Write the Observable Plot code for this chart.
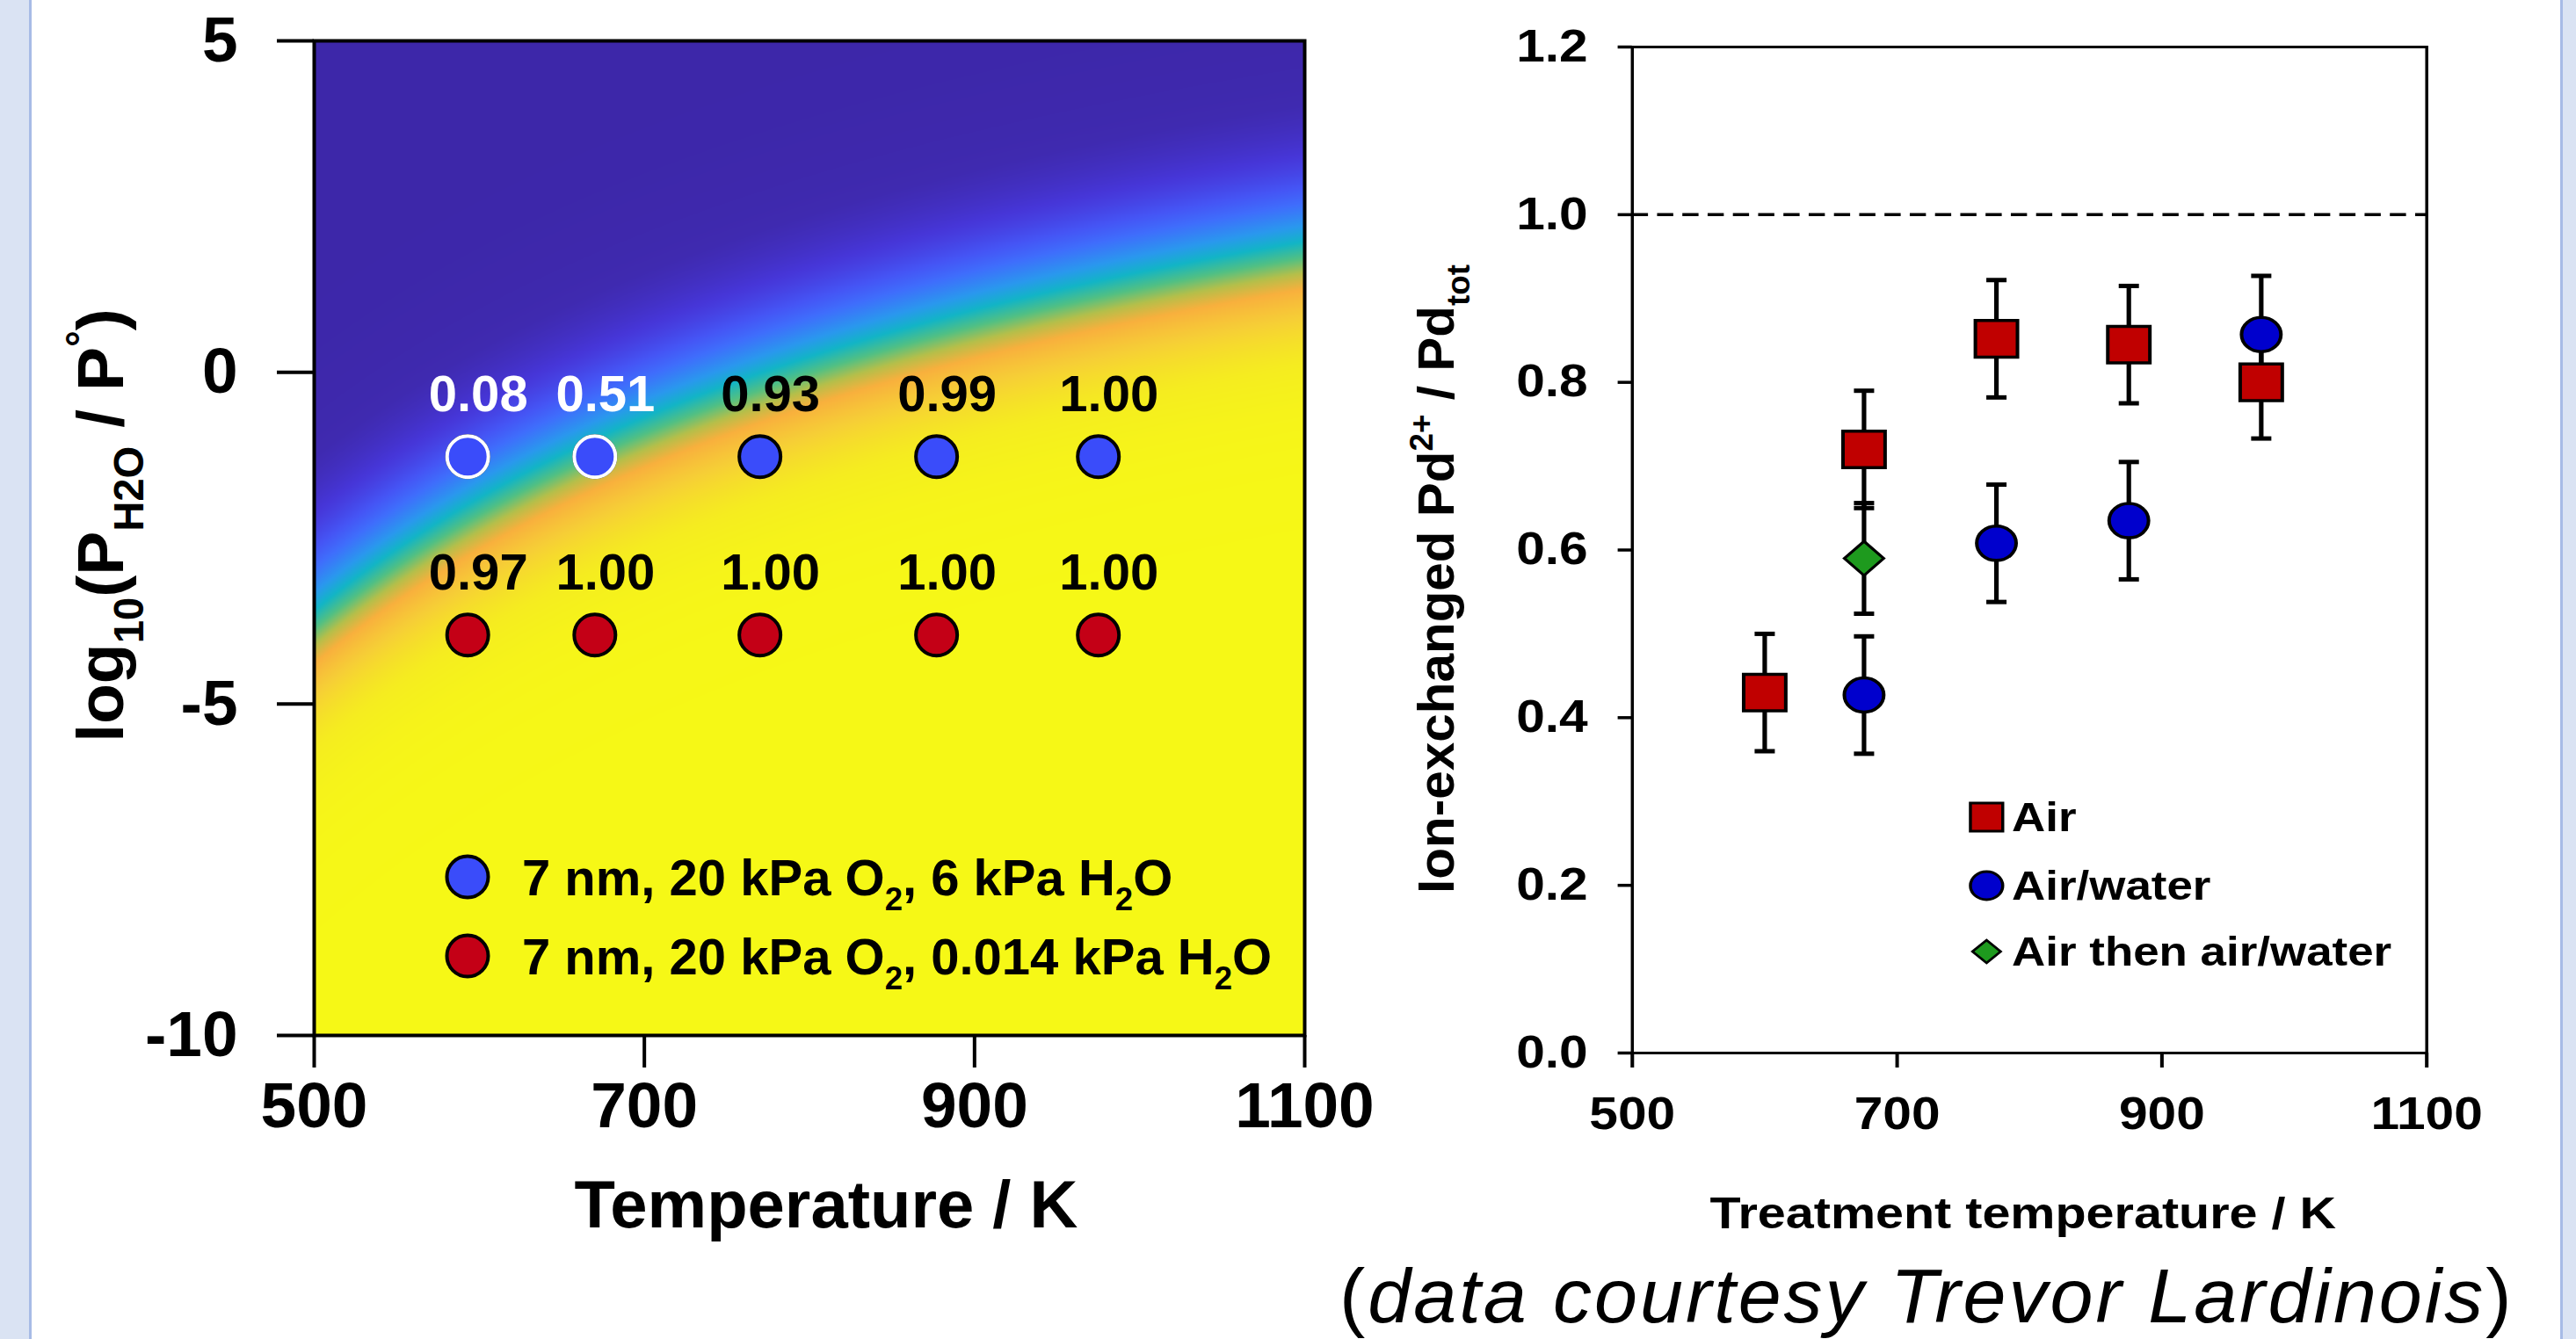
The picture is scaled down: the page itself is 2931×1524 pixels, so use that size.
<!DOCTYPE html>
<html><head><meta charset="utf-8">
<script src="https://cdn.jsdelivr.net/npm/d3@7"></script>
<script src="https://cdn.jsdelivr.net/npm/@observablehq/plot@0.6"></script>
<style>
html,body{margin:0;padding:0;background:#fff;}
#page{position:relative;width:2931px;height:1524px;overflow:hidden;background:#fff;font-family:"Liberation Sans",Arial,sans-serif;}
.stripL{position:absolute;left:0;top:0;width:33px;height:1524px;background:#dae3f3;border-right:3px solid #a7bbe6;}
.stripR{position:absolute;left:2913px;top:0;width:18px;height:1524px;background:#dae3f3;border-left:3px solid #a7bbe6;box-sizing:border-box;}
#left{position:absolute;left:0;top:0;width:1600px;height:1524px;}
#right{position:absolute;left:0;top:0;width:1150px;height:1524px;}
#page svg{max-width:none !important;}
#left svg g[aria-label$="tick"]{stroke-width:4px;}
#right svg g[aria-label$="tick"]{stroke-width:3.5px;}
#rightWrap{position:absolute;left:1560px;top:0;width:1150px;height:1524px;transform:scale(1.15,1);transform-origin:0 0;}
</style></head>
<body>
<div id="page">
  <div class="stripL"></div>
  <div class="stripR"></div>
  <div id="left"></div>
  <div id="rightWrap"><div id="right"></div></div>
</div>
<script>
// ---------- Left panel data ----------
const leftTemps = [593, 670, 770, 877, 975];           // K
const logP6kPa = -1.27;                                // log10(P_H2O/P°) of 6 kPa series
const logP0014kPa = -3.96;                             // log10(P_H2O/P°) of 0.014 kPa series
const frac6kPa = [0.08, 0.51, 0.93, 0.99, 1.00];
const frac0014kPa = [0.97, 1.00, 1.00, 1.00, 1.00];
const leftXTicks = [500, 700, 900, 1100];
const leftYTicks = [-10, -5, 0, 5];
const leftLegend = ["7 nm, 20 kPa O|2|, 6 kPa H|2|O", "7 nm, 20 kPa O|2|, 0.014 kPa H|2|O"];

// model surface (ion-exchanged fraction) read from the background band:
// band centre log10 P = A - B/T, band spread s = s0 + s1/T
const bandA = 6.61, bandB = 5100, bandS0 = 0.68, bandS1 = 85;
const fracStops = [0, 0.06, 0.15, 0.25, 0.32, 0.42, 0.5, 0.58, 0.65, 0.72, 0.82, 0.92, 1];
const fracColors = ["#3d27a9", "#3f2ab0", "#4636d8", "#4555f5", "#3f6efc", "#2a98ee", "#12b5c6",
                    "#52c083", "#b5bf4a", "#f8b03d", "#f6cf36", "#f5ec20", "#f6f816"];

// ---------- Right panel data ----------
const rightXTicks = [500, 700, 900, 1100];
const rightYTicks = [0, 0.2, 0.4, 0.6, 0.8, 1.0, 1.2];
const airT = [600, 675, 775, 875, 975];
const airFrac = [0.43, 0.72, 0.852, 0.845, 0.80];
const airErr = [0.07, 0.07, 0.07, 0.07, 0.067];
const waterT = [675, 775, 875, 975];
const waterFrac = [0.427, 0.608, 0.635, 0.857];
const waterErr = [0.07, 0.07, 0.07, 0.07];
const thenT = [675];
const thenFrac = [0.59];
const thenErr = [0.066];
const rightLegend = ["Air", "Air/water", "Air then air/water"];
const fullLine = 1.0;

const FONT = "Liberation Sans, Arial, sans-serif";

// ---------- Left chart ----------
function frac(T, lp) {
  const c = bandA - bandB / T;
  const s = bandS0 + bandS1 / T;
  return 1 / (1 + Math.exp((lp - c) / s));
}
const leftPts = [
  ...leftTemps.map((T, i) => ({T, lp: logP6kPa, f: frac6kPa[i], series: "h"})),
  ...leftTemps.map((T, i) => ({T, lp: logP0014kPa, f: frac0014kPa[i], series: "l"}))
];
const dark = d => d.f < 0.6;
const fmt = d => d.f.toFixed(2);

const left = Plot.plot({
  width: 1600, height: 1320,
  marginLeft: 357, marginRight: 116, marginTop: 46, marginBottom: 142,
  x: {domain: [500, 1100], ticks: leftXTicks, tickFormat: d => String(d), tickSize: 37, tickPadding: 16, label: null},
  y: {domain: [-10, 5], ticks: leftYTicks, tickFormat: d => String(d), tickSize: 42, tickPadding: 45, label: null},
  color: {type: "linear", domain: fracStops, range: fracColors, clamp: true, legend: false},
  style: {fontFamily: FONT, fontWeight: "bold", fontSize: "73px", background: "transparent", overflow: "visible", color: "black"},
  marks: [
    Plot.raster({x1: 500, x2: 1100, y1: -10, y2: 5, fill: (x, y) => frac(x, y), pixelSize: 1}),
    Plot.frame({stroke: "black", strokeWidth: 4}),
    Plot.dot(leftPts.filter(d => d.series === "h"), {x: "T", y: "lp", r: 23.5, fill: "#3a4cfa",
      stroke: "black", strokeWidth: 4}),
    Plot.dot(leftPts.filter(d => d.series === "h" && dark(d)), {x: "T", y: "lp", r: 23.5, fill: "#3a4cfa",
      stroke: "white", strokeWidth: 4}),
    Plot.dot(leftPts.filter(d => d.series === "l"), {x: "T", y: "lp", r: 23.5, fill: "#c40016",
      stroke: "black", strokeWidth: 4}),
    Plot.text(leftPts.filter(d => !dark(d)), {x: "T", y: "lp", text: fmt, dy: -70, dx: 12,
      fill: "black", fontSize: 58, fontWeight: "bold"}),
    Plot.text(leftPts.filter(dark), {x: "T", y: "lp", text: fmt, dy: -70, dx: 12,
      fill: "white", fontSize: 58, fontWeight: "bold"})
  ]
});
document.getElementById("left").appendChild(left);

// ---------- Right chart ----------
const mk = (Ts, vs, es, s) => Ts.map((T, i) => ({T, v: vs[i], e: es[i], s}));
const air = mk(airT, airFrac, airErr, "air");
const water = mk(waterT, waterFrac, waterErr, "water");
const then = mk(thenT, thenFrac, thenErr, "then");
const allR = [...air, ...water, ...then];
const capSymbol = {draw(ctx, size) { const r = Math.sqrt(size / Math.PI); ctx.moveTo(-r, 0); ctx.lineTo(r, 0); }};

const right = Plot.plot({
  width: 1150, height: 1300,
  marginLeft: 258, marginRight: 106, marginTop: 53, marginBottom: 102,
  x: {domain: [500, 1100], ticks: rightXTicks, tickFormat: d => String(d), tickSize: 17, tickPadding: 33, label: null},
  y: {domain: [0, 1.2], ticks: rightYTicks, tickFormat: d => d.toFixed(1), tickSize: 14, tickPadding: 30, label: null},
  style: {fontFamily: FONT, fontWeight: "bold", fontSize: "51px", background: "transparent", overflow: "visible", color: "black"},
  marks: [
    Plot.frame({stroke: "black", strokeWidth: 3}),
    Plot.ruleY([fullLine], {stroke: "black", strokeWidth: 3.5, strokeDasharray: "16,9"}),
    Plot.ruleX(allR, {x: "T", y1: d => d.v - d.e, y2: d => d.v + d.e, stroke: "black", strokeWidth: 4.5}),
    Plot.dot(allR, {x: "T", y: d => d.v - d.e, symbol: capSymbol, r: 10, stroke: "black", strokeWidth: 5, fill: "none"}),
    Plot.dot(allR, {x: "T", y: d => d.v + d.e, symbol: capSymbol, r: 10, stroke: "black", strokeWidth: 5, fill: "none"}),
    Plot.dot(air, {x: "T", y: "v", symbol: "square", r: 23.5, fill: "#c00000", stroke: "black", strokeWidth: 3.5}),
    Plot.dot(water, {x: "T", y: "v", symbol: "circle", r: 19.5, fill: "#0000cd", stroke: "black", strokeWidth: 3.5}),
    Plot.dot(then, {x: "T", y: "v", symbol: "diamond2", r: 17.5, fill: "#1e9a1e", stroke: "black", strokeWidth: 3})
  ]
});
document.getElementById("right").appendChild(right);

// ---------- overlays (axis titles, legends, caption) ----------
const NS = "http://www.w3.org/2000/svg";
function overlay(parent, w, h) {
  const s = document.createElementNS(NS, "svg");
  s.setAttribute("width", w); s.setAttribute("height", h);
  s.style.position = "absolute"; s.style.left = "0"; s.style.top = "0"; s.style.overflow = "visible";
  s.setAttribute("font-family", FONT);
  parent.appendChild(s);
  return s;
}
function el(parent, tag, attrs, text) {
  const e = document.createElementNS(NS, tag);
  for (const k in attrs) e.setAttribute(k, attrs[k]);
  if (text != null) e.textContent = text;
  parent.appendChild(e);
  return e;
}
// rich text: segments [text, kind] where kind: 0 normal, 1 sub, -1 sup
function rich(t, segs, size) {
  let cur = 0;
  for (const [str, kind] of segs) {
    const fs = kind === 0 ? size : size * 0.63;
    const target = kind === 1 ? size * 0.3 : kind === -1 ? -size * 0.42 : 0;
    el(t, "tspan", {dy: target - cur, "font-size": fs}, str);
    cur = target;
  }
}
function parseBars(s) { // "a|2|b" -> sub segments
  return s.split("|").map((p, i) => [p, i % 2 ? 1 : 0]);
}

const ovL = overlay(document.getElementById("left"), 1600, 1524);
const yl = el(ovL, "text", {transform: "translate(140,598) rotate(-90)", "text-anchor": "middle",
  "font-weight": "bold", "font-size": 75});
rich(yl, [["log", 0], ["10", 1], ["(P", 0], ["H2O", 1], [" / P", 0], ["°", -1], [")", 0]], 75);
el(ovL, "text", {x: 940, y: 1397, "text-anchor": "middle", "font-weight": "bold", "font-size": 76}, "Temperature / K");
const legCols = ["#3a4cfa", "#c40016"];
leftLegend.forEach((lab, i) => {
  const cy = 998 + i * 90;
  el(ovL, "circle", {cx: 532, cy, r: 23.5, fill: legCols[i], stroke: "black", "stroke-width": 4});
  const t = el(ovL, "text", {x: 594, y: cy + 21, "font-weight": "bold", "font-size": 58});
  rich(t, parseBars(lab), 58);
});

const ovR = overlay(document.getElementById("right"), 1150, 1524);
const yr = el(ovR, "text", {transform: "translate(82,659) rotate(-90)", "text-anchor": "middle",
  "font-weight": "bold", "font-size": 50, textLength: 716, lengthAdjust: "spacingAndGlyphs"});
rich(yr, [["Ion-exchanged Pd", 0], ["2+", -1], [" / Pd", 0], ["tot", 1]], 50);
el(ovR, "text", {x: 645, y: 1398, "text-anchor": "middle", "font-weight": "bold", "font-size": 50}, "Treatment temperature / K");
const legX = 609, legTX = 634, legY = [930, 1008, 1083];
el(ovR, "rect", {x: legX - 16, y: legY[0] - 16, width: 32, height: 32, fill: "#c00000", stroke: "black", "stroke-width": 3});
el(ovR, "circle", {cx: legX, cy: legY[1], r: 16, fill: "#0000cd", stroke: "black", "stroke-width": 3});
el(ovR, "path", {d: `M${legX - 14},${legY[2]}L${legX},${legY[2] - 13}L${legX + 14},${legY[2]}L${legX},${legY[2] + 13}Z`,
  fill: "#1e9a1e", stroke: "black", "stroke-width": 2.5});
rightLegend.forEach((lab, i) => {
  el(ovR, "text", {x: legTX, y: legY[i] + 16.5, "font-weight": "bold", "font-size": 46}, lab);
});

// caption
const ovC = overlay(document.getElementById("page"), 2931, 1524);
const cap = el(ovC, "text", {x: 1524, y: 1505, "font-size": 88, "letter-spacing": 3});
el(cap, "tspan", {}, "(");
el(cap, "tspan", {"font-style": "italic"}, "data courtesy Trevor Lardinois");
el(cap, "tspan", {}, ")");
</script>
</body></html>
